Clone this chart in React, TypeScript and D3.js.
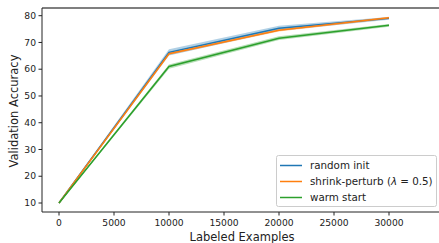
import React from "react";
import * as d3 from "d3";

const examples = [0, 10000, 20000, 30000];
const randomInit = [10, 66.3, 75.3, 79.0];
const randomInitErr = [0.3, 1.2, 0.9, 0.5];
const shrinkPerturb = [10, 65.8, 74.6, 79.2];
const shrinkPerturbErr = [0.2, 0.5, 0.5, 0.4];
const warmStart = [10, 61.0, 71.6, 76.4];
const warmStartErr = [0.2, 0.8, 0.7, 0.5];
const xTicks = [0, 5000, 10000, 15000, 20000, 25000, 30000];
const yTicks = [10, 20, 30, 40, 50, 60, 70, 80];
const seriesNames = ["random init", "shrink-perturb", "warm start"];
const colors = ["#1f77b4", "#ff7f0e", "#2ca02c"];

const W = 439;
const H = 243;
const left = 42;
const bottom = 212;
const top = 8;

export default function App() {
  const x = d3.scaleLinear().domain([0, 30000]).range([59, 389]);
  const y = d3.scaleLinear().domain([10, 80]).range([203, 15.7]);
  const series = [
    { v: randomInit, e: randomInitErr },
    { v: shrinkPerturb, e: shrinkPerturbErr },
    { v: warmStart, e: warmStartErr },
  ];
  const line = d3
    .line<number>()
    .x((_, i) => x(examples[i]))
    .y((d) => y(d));
  const area = (v: number[], e: number[]) =>
    d3
      .area<number>()
      .x((_, i) => x(examples[i]))
      .y0((d, i) => y(d - e[i]))
      .y1((d, i) => y(d + e[i]))(v) as string;
  const font = "DejaVu Sans, sans-serif";
  return (
    <svg
      width={W}
      height={H}
      style={{ position: "absolute", left: 0, top: 0 }}
      fontFamily={font}
    >
      <rect width={W} height={H} fill="white" />
      {series.map((s, k) => (
        <path key={"a" + k} d={area(s.v, s.e)} fill={colors[k]} opacity={0.35} />
      ))}
      {series.map((s, k) => (
        <path
          key={"l" + k}
          d={line(s.v) as string}
          fill="none"
          stroke={colors[k]}
          strokeWidth={1.5}
        />
      ))}
      {/* spines */}
      <line x1={left} x2={W} y1={top} y2={top} stroke="#7f7f7f" strokeWidth={2} />
      <line x1={left} x2={left} y1={top} y2={bottom} stroke="#222" strokeWidth={1} />
      <line x1={left} x2={W} y1={bottom} y2={bottom} stroke="#222" strokeWidth={1} />
      {xTicks.map((t) => (
        <g key={"xt" + t} transform={`translate(${x(t)},${bottom})`}>
          <line y2={3.5} stroke="#222" />
          <text y={13.5} textAnchor="middle" fontSize={9.2} fill="#222">
            {t}
          </text>
        </g>
      ))}
      {yTicks.map((t) => (
        <g key={"yt" + t} transform={`translate(${left},${y(t)})`}>
          <line x2={-3.5} stroke="#222" />
          <text x={-6} dy="0.35em" textAnchor="end" fontSize={9.2} fill="#222">
            {t}
          </text>
        </g>
      ))}
      <text x={242} y={240.5} textAnchor="middle" fontSize={11.5} fill="#222">
        Labeled Examples
      </text>
      <text
        transform={`translate(18,111) rotate(-90)`}
        textAnchor="middle"
        fontSize={11.5}
        fill="#222"
      >
        Validation Accuracy
      </text>
      {/* legend */}
      <g>
        <rect
          x={276.5}
          y={155.5}
          width={160}
          height={51}
          rx={2}
          fill="white"
          fillOpacity={0.8}
          stroke="#ccc"
        />
        {seriesNames.map((n, k) => (
          <g key={"lg" + k} transform={`translate(280,${165.5 + k * 16})`}>
            <line x1={0} x2={22} stroke={colors[k]} strokeWidth={1.5} />
            <text x={30} dy="0.35em" fontSize={10.3} fill="#222">
              {k === 1 ? (
                <>
                  {n} (<tspan fontStyle="italic">λ</tspan> = 0.5)
                </>
              ) : (
                n
              )}
            </text>
          </g>
        ))}
      </g>
    </svg>
  );
}
